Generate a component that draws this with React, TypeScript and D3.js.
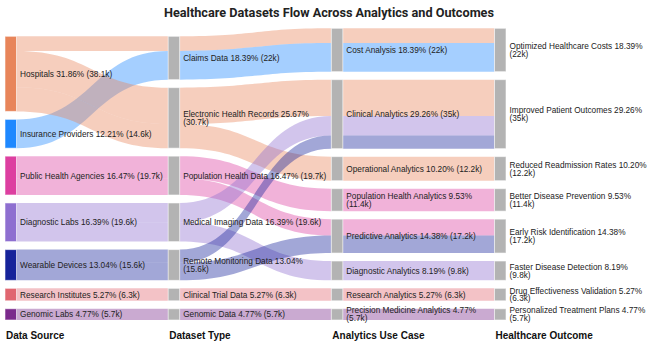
import React, { useMemo } from 'react';
import * as d3 from 'd3';

const W = 650;
const H = 354;

const sources = ['Hospitals', 'Insurance Providers', 'Public Health Agencies', 'Diagnostic Labs', 'Wearable Devices', 'Research Institutes', 'Genomic Labs'];
const sourceColors = ['#E8855A', '#1E88FF', '#DD3FA0', '#8E6FD0', '#16239A', '#E06670', '#7B2A8C'];
const datasetTypes = ['Claims Data', 'Electronic Health Records', 'Population Health Data', 'Medical Imaging Data', 'Remote Monitoring Data', 'Clinical Trial Data', 'Genomic Data'];
const useCases = ['Cost Analysis', 'Clinical Analytics', 'Operational Analytics', 'Population Health Analytics', 'Predictive Analytics', 'Diagnostic Analytics', 'Research Analytics', 'Precision Medicine Analytics'];
const outcomes = ['Optimized Healthcare Costs', 'Improved Patient Outcomes', 'Reduced Readmission Rates', 'Better Disease Prevention', 'Early Risk Identification', 'Faster Disease Detection', 'Drug Effectiveness Validation', 'Personalized Treatment Plans'];
const stageLabels = ['Data Source', 'Dataset Type', 'Analytics Use Case', 'Healthcare Outcome'];

// flow paths (values in thousands)
const pathSource = ['Hospitals', 'Insurance Providers', 'Hospitals', 'Hospitals', 'Public Health Agencies', 'Public Health Agencies', 'Diagnostic Labs', 'Diagnostic Labs', 'Wearable Devices', 'Wearable Devices', 'Research Institutes', 'Genomic Labs'];
const pathDataset = ['Claims Data', 'Claims Data', 'Electronic Health Records', 'Electronic Health Records', 'Population Health Data', 'Population Health Data', 'Medical Imaging Data', 'Medical Imaging Data', 'Remote Monitoring Data', 'Remote Monitoring Data', 'Clinical Trial Data', 'Genomic Data'];
const pathUseCase = ['Cost Analysis', 'Cost Analysis', 'Clinical Analytics', 'Operational Analytics', 'Population Health Analytics', 'Predictive Analytics', 'Clinical Analytics', 'Diagnostic Analytics', 'Clinical Analytics', 'Predictive Analytics', 'Research Analytics', 'Precision Medicine Analytics'];
const pathOutcome = ['Optimized Healthcare Costs', 'Optimized Healthcare Costs', 'Improved Patient Outcomes', 'Reduced Readmission Rates', 'Better Disease Prevention', 'Early Risk Identification', 'Improved Patient Outcomes', 'Faster Disease Detection', 'Improved Patient Outcomes', 'Early Risk Identification', 'Drug Effectiveness Validation', 'Personalized Treatment Plans'];
const pathValue = [7.4, 14.6, 18.5, 12.2, 11.4, 8.3, 9.8, 9.8, 6.7, 8.9, 6.3, 5.7];

const LABEL_FONT = "8.25px 'Liberation Sans', Arial, sans-serif";

type SNode = any;
type SLink = any;

// Sankey layout: columns stacked from the bottom edge, shared vertical scale.
function sankey(nodes: SNode[], links: SLink[], opt: { x0: number; y0: number; x1: number; y1: number; dx: number; py: number }) {
  const { x0, y0, x1, y1, dx, py } = opt;
  for (const n of nodes) { n.sourceLinks = []; n.targetLinks = []; }
  links.forEach((l, i) => { l.index = i; l.source.sourceLinks.push(l); l.target.targetLinks.push(l); });
  for (const n of nodes) n.value = Math.max(d3.sum(n.sourceLinks, (l: any) => l.value), d3.sum(n.targetLinks, (l: any) => l.value));
  const nCols = (d3.max(nodes, (n: any) => n.layer) as number) + 1;
  const kx = (x1 - x0 - dx) / (nCols - 1);
  const columns: SNode[][] = Array.from({ length: nCols }, () => []);
  for (const n of nodes) { n.x0 = x0 + n.layer * kx; n.x1 = n.x0 + dx; columns[n.layer].push(n); }
  const ky = d3.min(columns, c => (y1 - y0 - (c.length - 1) * py) / d3.sum(c, (n: any) => n.value)) as number;
  for (const col of columns) {
    let y = y1;
    for (let i = col.length - 1; i >= 0; i--) {
      const n = col[i];
      n.y1 = y; n.y0 = y - n.value * ky; y = n.y0 - py;
    }
  }
  for (const l of links) l.width = l.value * ky;
  const ascSrc = (a: any, b: any) => (a.source.y0 - b.source.y0) || a.index - b.index;
  const ascTgt = (a: any, b: any) => (a.target.y0 - b.target.y0) || a.index - b.index;
  for (const n of nodes) {
    n.sourceLinks.sort(ascTgt); n.targetLinks.sort(ascSrc);
    let a = n.y0, b = n.y0;
    for (const l of n.sourceLinks) { l.y0 = a + l.width / 2; a += l.width; }
    for (const l of n.targetLinks) { l.y1 = b + l.width / 2; b += l.width; }
  }
  return { nodes, links };
}

let measureCtx: CanvasRenderingContext2D | null = null;
function textWidth(s: string) {
  if (!measureCtx) measureCtx = document.createElement('canvas').getContext('2d');
  measureCtx!.font = LABEL_FONT;
  return measureCtx!.measureText(s).width;
}
function wrap(text: string, maxW: number) {
  const words = text.split(' ');
  const lines: string[] = [];
  let cur = '';
  for (const w of words) {
    const t = cur ? cur + ' ' + w : w;
    if (cur && textWidth(t) > maxW) { lines.push(cur); cur = w; } else cur = t;
  }
  if (cur) lines.push(cur);
  return lines;
}

function linkPath(l: any) {
  const sx = l.source.x1, tx = l.target.x0;
  const xm = d3.interpolateNumber(sx, tx)(0.5);
  const h = l.width / 2;
  const p = d3.path();
  p.moveTo(sx, l.y0 - h);
  p.bezierCurveTo(xm, l.y0 - h, xm, l.y1 - h, tx, l.y1 - h);
  p.lineTo(tx, l.y1 + h);
  p.bezierCurveTo(xm, l.y1 + h, xm, l.y0 + h, sx, l.y0 + h);
  p.closePath();
  return p.toString();
}

export default function App() {
  const data = useMemo(() => {
    const columnsNames = [sources, datasetTypes, useCases, outcomes];
    const nodes: SNode[] = [];
    const byName = new Map<string, SNode>();
    columnsNames.forEach((col, layer) => col.forEach(name => { const n = { name, layer }; nodes.push(n); byName.set(name, n); }));
    const links: SLink[] = [];
    pathValue.forEach((v, i) => {
      const chain = [pathSource[i], pathDataset[i], pathUseCase[i], pathOutcome[i]];
      for (let k = 0; k < 3; k++) links.push({ source: byName.get(chain[k]), target: byName.get(chain[k + 1]), value: v, origin: pathSource[i] });
    });
    const g = sankey(nodes, links, { x0: 5, y0: 28.3, x1: 506, y1: 320, dx: 11.5, py: 8 });
    const total = d3.sum(pathValue);
    const color = d3.scaleOrdinal<string, string>().domain(sources).range(sourceColors);
    return { ...g, total, color };
  }, []);

  const { nodes, links, total, color } = data;
  const lh = 7.8;

  return (
    <svg width={W} height={H} style={{ position: 'absolute', left: 0, top: 0, fontFamily: "'Liberation Sans', Arial, sans-serif" }}>
      <rect width={W} height={H} fill="#fff" />
      <text x={329} y={17} textAnchor="middle" fontFamily="Roboto, 'Liberation Sans', sans-serif" fontWeight="bold" fontSize={12.7} fill="#222">Healthcare Datasets Flow Across Analytics and Outcomes</text>
      <g>
        {links.map((l: any, i: number) => (
          <path key={i} d={linkPath(l)} fill={color(l.origin)} fillOpacity={0.4} />
        ))}
      </g>
      <g>
        {nodes.map((n: any, i: number) => (
          <rect key={i} x={n.x0} y={n.y0} width={n.x1 - n.x0} height={n.y1 - n.y0}
            fill={n.layer === 0 ? color(n.name) : '#b3b3b3'} stroke="rgba(255,255,255,0.55)" strokeWidth={1} />
        ))}
      </g>
      <g fontSize={8.25} fill="#222">
        {nodes.map((n: any, i: number) => {
          const label = `${n.name} ${(n.value / total * 100).toFixed(2)}% (${+n.value.toFixed(1)}k)`;
          const x = n.x1 + 3.5;
          const maxW = Math.min(146, W - x - 1.5);
          const lines = wrap(label, maxW);
          const cy = (n.y0 + n.y1) / 2;
          const start = cy - (lines.length - 1) * lh / 2;
          return (
            <text key={i} x={x} dominantBaseline="central">
              {lines.map((t, j) => <tspan key={j} x={x} y={start + j * lh}>{t}</tspan>)}
            </text>
          );
        })}
      </g>
      <g fontWeight="bold" fontSize={10} fill="#111">
        {stageLabels.map((s, i) => {
          const n = nodes.find((d: any) => d.layer === i);
          return <text key={s} x={n.x0 + 1} y={339}>{s}</text>;
        })}
      </g>
    </svg>
  );
}
